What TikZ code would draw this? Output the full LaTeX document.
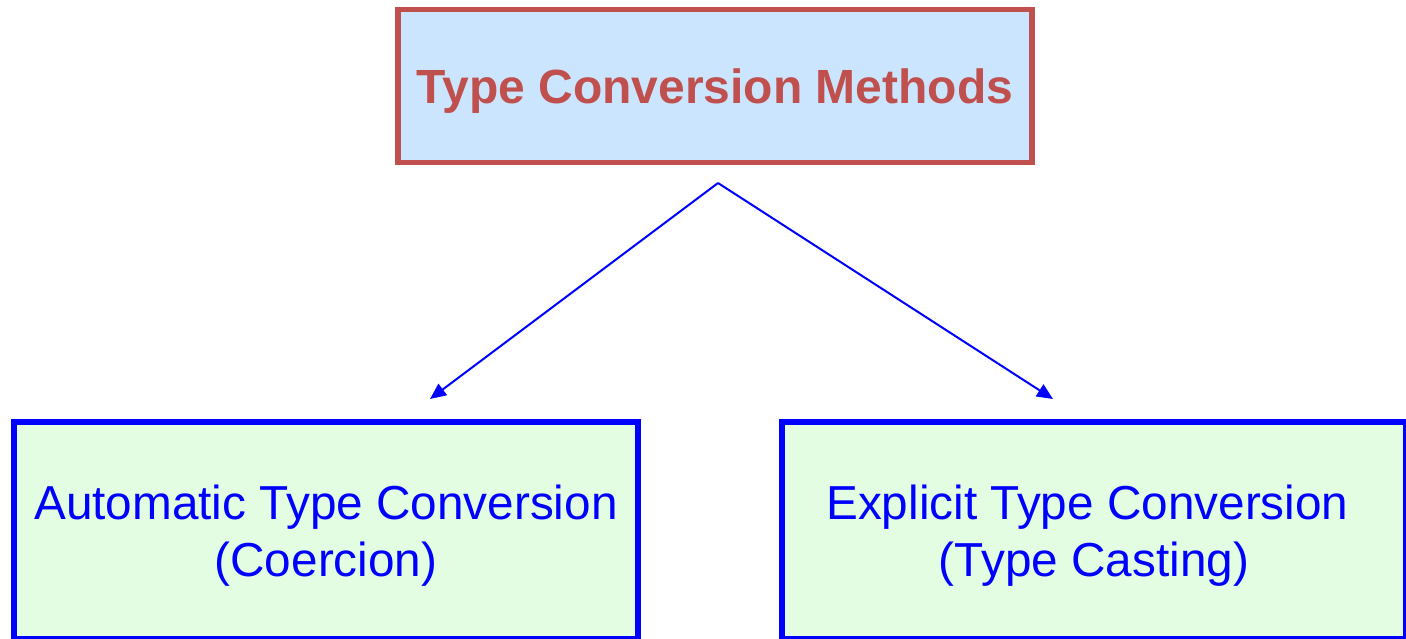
\documentclass[tikz,border=0pt]{standalone}
\usepackage{fontspec}
\setmainfont{Liberation Sans}
\usetikzlibrary{arrows.meta}
\definecolor{headred}{HTML}{C0504D}
\definecolor{headfill}{HTML}{CCE5FF}
\definecolor{leaffill}{HTML}{E2FDE2}
\definecolor{linkblue}{HTML}{0000FF}
\tikzset{
  x=1pt, y=1pt,
  headbox/.style={draw=headred, fill=headfill, line width=5.5pt,
    minimum width=634pt, minimum height=152.6pt, inner sep=0pt},
  headtext/.style={text=headred, inner sep=0pt,
    font=\fontsize{48}{58}\selectfont\bfseries},
  leafbox/.style={draw=linkblue, fill=leaffill, line width=6pt,
    minimum width=624pt, minimum height=217.5pt, inner sep=0pt},
  leaftext/.style={text=linkblue, align=center, inner sep=0pt,
    font=\fontsize{47.7}{57}\selectfont},
  link/.style={draw=linkblue, line width=2pt,
    -{Triangle[length=16pt,width=14pt]}}
}
\begin{document}
\begin{tikzpicture}
  \useasboundingbox (0,0) rectangle (1406,-638);
  % heading
  \node[headbox] (top) at (715,-86) {};
  \node[headtext] (toptxt) at ([yshift=-5pt]top.center) {Type Conversion Methods};
  % the two kinds of conversion
  \node[leafbox] (auto) at (326,-530.25) {};
  \node[leafbox] (expl) at (1094,-530.25) {};
  \node[leaftext] (autotxt) at ([yshift=-5pt]auto.center)
    {Automatic Type Conversion\\(Coercion)};
  \node[leaftext] (expltxt) at ([yshift=-5pt]expl.center)
    {Explicit Type Conversion\hspace{0.278em}\null\\(Type Casting)};
  % branching arrows
  \coordinate (apex) at (718,-183);
  \coordinate (endL) at (430,-399);
  \coordinate (endR) at (1053,-399);
  \draw[link] (apex) -- (endL);
  \draw[link] (apex) -- (endR);
\end{tikzpicture}
\end{document}
